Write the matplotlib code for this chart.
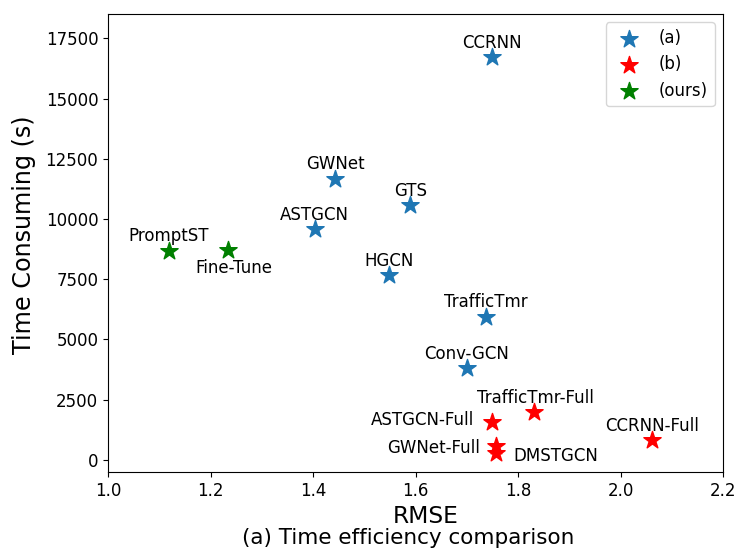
import matplotlib
matplotlib.use("Agg")
import matplotlib.pyplot as plt

# ---- data ----
names_a = ["CCRNN", "GWNet", "GTS", "ASTGCN", "HGCN", "TrafficTmr", "Conv-GCN"]
rmse_a = [1.750, 1.443, 1.589, 1.403, 1.549, 1.737, 1.700]
time_a = [16710, 11645, 10578, 9568, 7671, 5940, 3796]

names_b = ["TrafficTmr-Full", "ASTGCN-Full", "GWNet-Full", "DMSTGCN", "CCRNN-Full"]
rmse_b = [1.832, 1.749, 1.757, 1.758, 2.061]
time_b = [1968, 1578, 581, 266, 818]

names_o = ["PromptST", "Fine-Tune"]
rmse_o = [1.119, 1.235]
time_o = [8680, 8709]

legend_labels = ["(a)", "(b)", "(ours)"]
x_ticks = [1.0, 1.2, 1.4, 1.6, 1.8, 2.0, 2.2]
y_ticks = [0, 2500, 5000, 7500, 10000, 12500, 15000, 17500]

# ---- label placement (offset pixels, alignment) ----
label_pos = {
    "CCRNN": (0, 9, "center"),
    "GWNet": (0, 10, "center"),
    "GTS": (1, 9, "center"),
    "ASTGCN": (0, 9.3, "center"),
    "HGCN": (0, 9.3, "center"),
    "TrafficTmr": (0, 10, "center"),
    "Conv-GCN": (0, 9.3, "center"),
    "TrafficTmr-Full": (1.4, 9.6, "center"),
    "ASTGCN-Full": (-17.7, -3.3, "right"),
    "GWNet-Full": (-16, -7, "right"),
    "DMSTGCN": (16.6, -7.4, "left"),
    "CCRNN-Full": (0, 9, "center"),
    "PromptST": (0, 10, "center"),
    "Fine-Tune": (5.5, -23.3, "center"),
}

fig = plt.figure(figsize=(7.47, 5.59), dpi=100)
ax = fig.add_axes([108/747, 1-472/559, (723-108)/747, (472-14)/559])

ms = 170
ax.scatter(rmse_a, time_a, marker="*", s=ms, color="#1f77b4", label=legend_labels[0], zorder=3)
ax.scatter(rmse_b, time_b, marker="*", s=ms, color="red", label=legend_labels[1], zorder=3)
ax.scatter(rmse_o, time_o, marker="*", s=ms, color="green", label=legend_labels[2], zorder=3)

for names, xs, ys in [(names_a, rmse_a, time_a), (names_b, rmse_b, time_b), (names_o, rmse_o, time_o)]:
    for n, x, y in zip(names, xs, ys):
        dx, dy, ha = label_pos[n]
        ax.annotate(n, (x, y), xytext=(dx, dy), textcoords="offset pixels",
                    ha=ha, va="baseline", fontsize=12)

ax.set_xlim(1.0, 2.2)
ax.set_ylim(-510, 18510)
ax.set_xticks(x_ticks)
ax.set_yticks(y_ticks)
ax.tick_params(labelsize=12)

ax.set_xlabel("RMSE", fontsize=16.8, va="baseline")
ax.xaxis.set_label_coords((425.8-108)/615, (472-523.3)/458)
ax.set_ylabel("Time Consuming (s)", fontsize=17.2)
ax.yaxis.set_label_coords((36.5-108)/615, (472-234.2)/458)

fig.text(408/747, 1-544/559, "(a) Time efficiency comparison", fontsize=15.5,
         ha="center", va="baseline")

ax.legend(loc="upper right", fontsize=12)

fig.savefig("out.png", dpi=100)
